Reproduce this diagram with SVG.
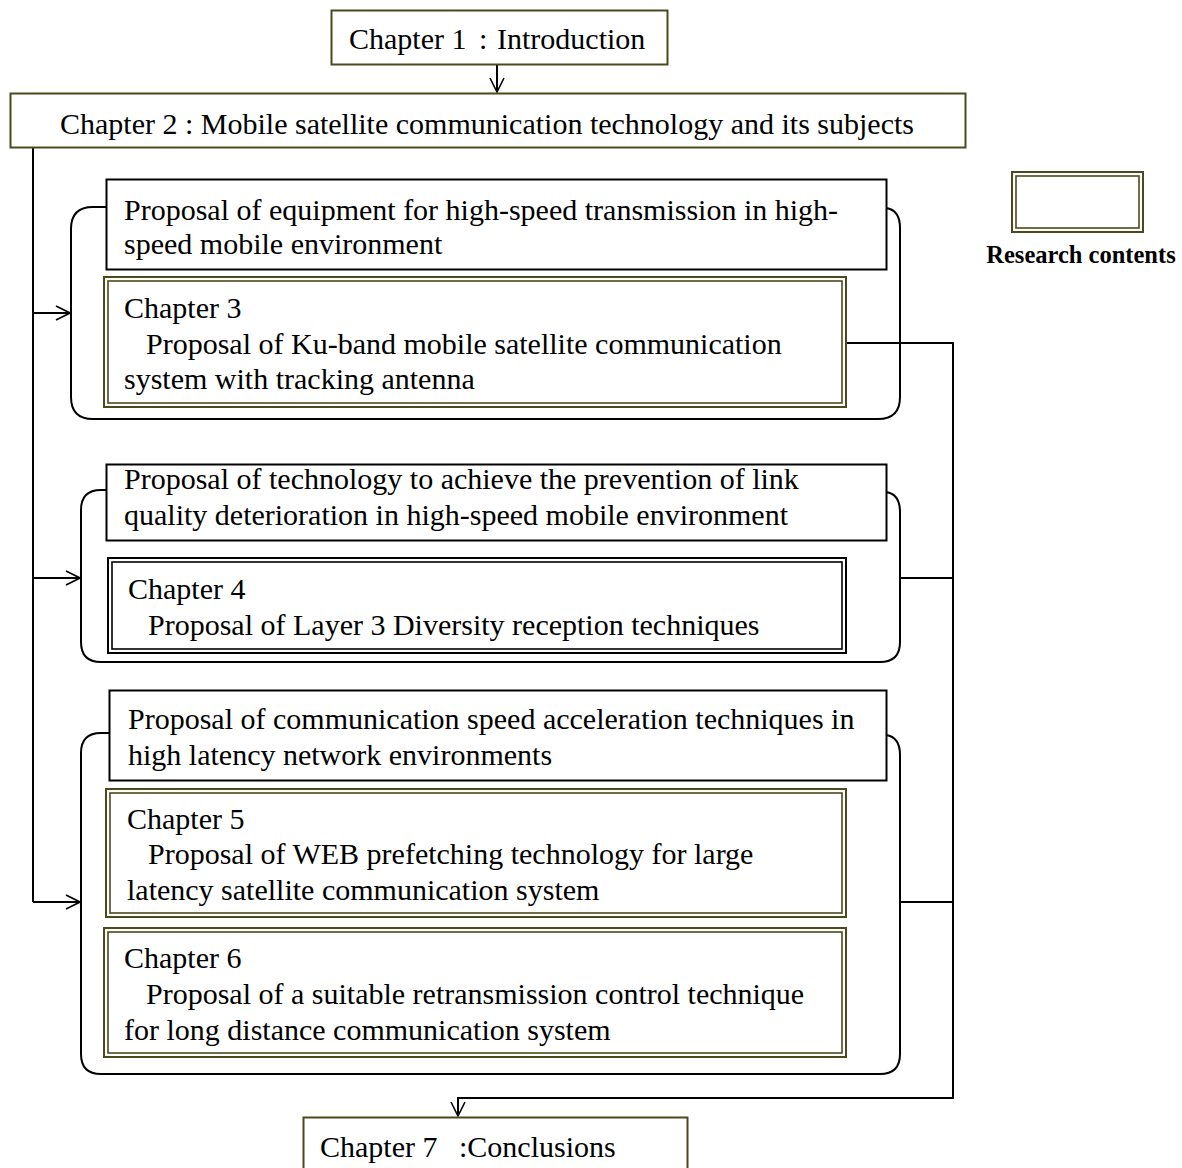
<svg xmlns="http://www.w3.org/2000/svg" width="1182" height="1168" viewBox="0 0 1182 1168">
  <style>
    .t { font-family: "Liberation Serif", "Times New Roman", "Noto Sans CJK JP", serif; font-size: 30px; fill: #000; }
    .c { text-anchor: middle; }
    .b { font-weight: bold; font-size: 24.5px; }
    .olive { fill: #fff; stroke: #4a4a1c; stroke-width: 2; }
    .plain { fill: #fff; stroke: #000; stroke-width: 2; }
    .dbl-o { fill: none; stroke: #4a4a1c; stroke-width: 1.6; }
    .dbl-k { fill: none; stroke: #000; stroke-width: 1.6; }
    .brk { fill: none; stroke: #000; stroke-width: 2; }
    .ln { fill: none; stroke: #000; stroke-width: 2; }
  </style>
  <defs>
    <marker id="arr" viewBox="0 0 16 16" refX="15" refY="8" markerWidth="16" markerHeight="16" markerUnits="userSpaceOnUse" orient="auto">
      <polyline points="1,1 15,8 1,15" fill="none" stroke="#000" stroke-width="1.6"/>
    </marker>
  </defs>
  <rect width="1182" height="1168" fill="#fff"/>

  <!-- rounded brackets enclosing each proposal group -->
  <g id="brackets">
    <path class="brk" d="M106,207 H93 Q71,207 71,229 V397 Q71,419 93,419 H878 Q900,419 900,397 V228 Q900,210 886,208"/>
    <path class="brk" d="M106,490 H101 Q81,490 81,510 V642 Q81,662 101,662 H880 Q900,662 900,642 V512 Q900,494 886,492"/>
    <path class="brk" d="M109,733 H101 Q81,733 81,753 V1054 Q81,1074 101,1074 H880 Q900,1074 900,1054 V755 Q900,737 886,735"/>
  </g>

  <!-- connectors -->
  <g id="connectors">
    <line class="ln" x1="497" y1="65" x2="497" y2="92" marker-end="url(#arr)"/>
    <polyline class="ln" points="33,148 33,902"/>
    <line class="ln" x1="33" y1="313" x2="70" y2="313" marker-end="url(#arr)"/>
    <line class="ln" x1="33" y1="578" x2="80" y2="578" marker-end="url(#arr)"/>
    <line class="ln" x1="33" y1="902" x2="80" y2="902" marker-end="url(#arr)"/>
    <polyline class="ln" points="846,343 953,343 953,1098 458,1098 458,1116" marker-end="url(#arr)"/>
    <line class="ln" x1="900" y1="578" x2="953" y2="578"/>
    <line class="ln" x1="900" y1="902" x2="953" y2="902"/>
  </g>

  <g id="ch1">
    <rect class="olive" x="331.5" y="10.5" width="336" height="54"/>
    <text class="t" x="349" y="49">Chapter 1<tspan x="479">:</tspan><tspan x="497">Introduction</tspan></text>
  </g>

  <g id="ch2">
    <rect class="olive" x="10.5" y="93.5" width="955" height="54"/>
    <text class="t c" x="487" y="134">Chapter 2 : Mobile satellite communication technology and its subjects</text>
  </g>

  <g id="head1">
    <rect class="plain" x="106.5" y="179.5" width="780" height="90"/>
    <text class="t" x="124" y="220">Proposal of equipment for high-speed transmission in high-</text>
    <text class="t" x="124" y="254">speed mobile environment</text>
  </g>

  <g id="ch3">
    <rect class="olive" x="104" y="277" width="742" height="130" stroke-width="1.6"/>
    <rect class="dbl-o" x="108" y="281" width="734" height="122"/>
    <text class="t" x="124" y="318">Chapter 3</text>
    <text class="t" x="146" y="354">Proposal of Ku-band mobile satellite communication</text>
    <text class="t" x="124" y="389">system with tracking antenna</text>
  </g>

  <g id="head2">
    <rect class="plain" x="106.5" y="464.5" width="780" height="76"/>
    <text class="t" x="124" y="489">Proposal of technology to achieve the prevention of link</text>
    <text class="t" x="124" y="525">quality deterioration in high-speed mobile environment</text>
  </g>

  <g id="ch4">
    <rect class="plain" x="108" y="558" width="738" height="95" stroke-width="1.6"/>
    <rect class="dbl-k" x="112" y="562" width="730" height="87"/>
    <text class="t" x="128" y="599">Chapter 4</text>
    <text class="t" x="148" y="635">Proposal of Layer 3 Diversity reception techniques</text>
  </g>

  <g id="head3">
    <rect class="plain" x="109.5" y="690.5" width="777" height="90"/>
    <text class="t" x="128" y="729">Proposal of communication speed acceleration techniques in</text>
    <text class="t" x="128" y="765">high latency network environments</text>
  </g>

  <g id="ch5">
    <rect class="olive" x="106" y="789" width="740" height="128" stroke-width="1.6"/>
    <rect class="dbl-o" x="110" y="793" width="732" height="120"/>
    <text class="t" x="127" y="829">Chapter 5</text>
    <text class="t" x="148" y="864">Proposal of WEB prefetching technology for large</text>
    <text class="t" x="127" y="900">latency satellite communication system</text>
  </g>

  <g id="ch6">
    <rect class="olive" x="104" y="928" width="742" height="129" stroke-width="1.6"/>
    <rect class="dbl-o" x="108" y="932" width="734" height="121"/>
    <text class="t" x="124" y="968">Chapter 6</text>
    <text class="t" x="146" y="1004">Proposal of a suitable retransmission control technique</text>
    <text class="t" x="124" y="1040">for long distance communication system</text>
  </g>

  <g id="ch7">
    <rect class="olive" x="303.5" y="1117.5" width="384" height="60"/>
    <text class="t" x="320" y="1157">Chapter 7<tspan x="459">:Conclusions</tspan></text>
  </g>

  <g id="legend">
    <rect class="olive" x="1012" y="172" width="131" height="60" stroke-width="1.6"/>
    <rect class="dbl-o" x="1016" y="176" width="123" height="52"/>
    <text class="t b c" x="1081" y="263">Research contents</text>
  </g>
</svg>
